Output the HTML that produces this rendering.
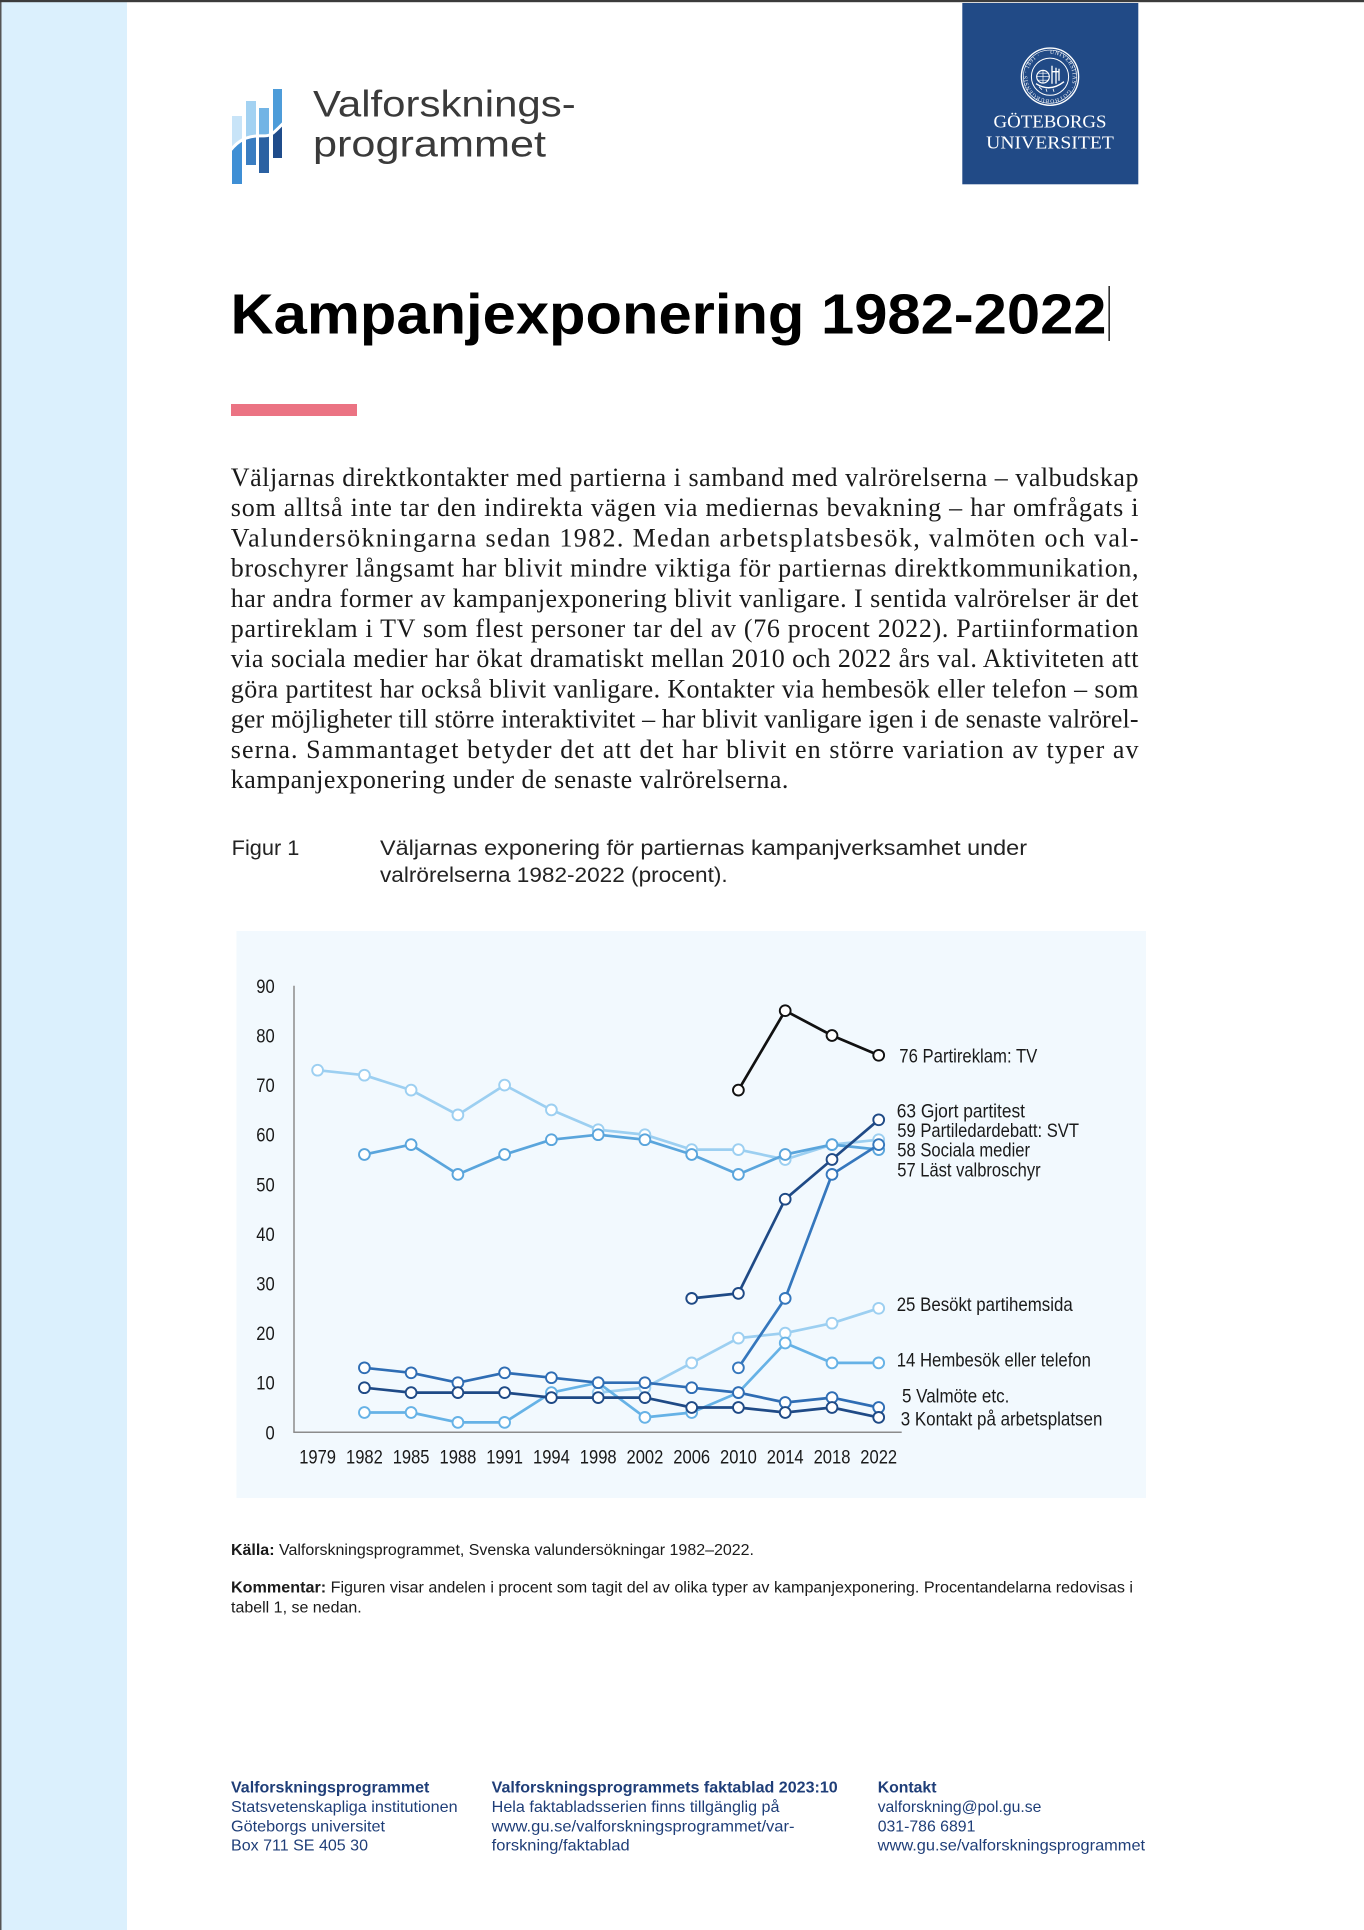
<!DOCTYPE html>
<html lang="sv">
<head>
<meta charset="utf-8">
<title>Kampanjexponering 1982-2022</title>
<style>
  html,body{margin:0;padding:0;background:#fff;}
  svg{display:block;}
</style>
</head>
<body>
<svg xmlns="http://www.w3.org/2000/svg" width="1364" height="1930" viewBox="0 0 1364 1930">
  <defs>
    <clipPath id="below">
      <path d="M226,156 C236,142 244,137 256,136 C264,135.5 268,137 273,133 C277,130 281,125 290,117 L290,200 L226,200 Z"/>
    </clipPath>
    <path id="sealp" d="M0,-22.8 A22.8,22.8 0 1,1 -0.01,-22.8"/>
    <marker id="mA" markerWidth="16" markerHeight="16" refX="8" refY="8" markerUnits="userSpaceOnUse"><circle cx="8" cy="8" r="5.4" fill="#fff" stroke="#9ccff1" stroke-width="1.9"/></marker>
    <marker id="mB" markerWidth="16" markerHeight="16" refX="8" refY="8" markerUnits="userSpaceOnUse"><circle cx="8" cy="8" r="5.4" fill="#fff" stroke="#5aa5dc" stroke-width="1.9"/></marker>
    <marker id="mC" markerWidth="16" markerHeight="16" refX="8" refY="8" markerUnits="userSpaceOnUse"><circle cx="8" cy="8" r="5.4" fill="#fff" stroke="#66b2e6" stroke-width="1.9"/></marker>
    <marker id="mD" markerWidth="16" markerHeight="16" refX="8" refY="8" markerUnits="userSpaceOnUse"><circle cx="8" cy="8" r="5.4" fill="#fff" stroke="#2f6db4" stroke-width="1.9"/></marker>
    <marker id="mE" markerWidth="16" markerHeight="16" refX="8" refY="8" markerUnits="userSpaceOnUse"><circle cx="8" cy="8" r="5.4" fill="#fff" stroke="#1f4a86" stroke-width="1.9"/></marker>
    <marker id="mF" markerWidth="16" markerHeight="16" refX="8" refY="8" markerUnits="userSpaceOnUse"><circle cx="8" cy="8" r="5.4" fill="#fff" stroke="#111" stroke-width="1.9"/></marker>
    <marker id="mG" markerWidth="16" markerHeight="16" refX="8" refY="8" markerUnits="userSpaceOnUse"><circle cx="8" cy="8" r="5.4" fill="#fff" stroke="#3577bd" stroke-width="1.9"/></marker>
  </defs>

  <!-- page frame -->
  <rect x="0" y="0" width="1364" height="1930" fill="#fff"/>
  <rect x="0" y="0" width="127" height="1930" fill="#dbf0fd"/>
  <rect x="0" y="0" width="1.5" height="1930" fill="#555"/>
  <rect x="0" y="0" width="1364" height="2.2" fill="#3c3c3c"/>

  <!-- Valforskningsprogrammet logo -->
  <g>
    <rect x="232" y="116" width="10" height="68" fill="#c8e4f8"/>
    <rect x="232" y="116" width="10" height="68" fill="#3f8fd5" clip-path="url(#below)"/>
    <rect x="246" y="101" width="10" height="64" fill="#a3d2f2"/>
    <rect x="246" y="101" width="10" height="64" fill="#3a7dc1" clip-path="url(#below)"/>
    <rect x="259" y="108" width="10" height="65" fill="#72b4e5"/>
    <rect x="259" y="108" width="10" height="65" fill="#2b61a2" clip-path="url(#below)"/>
    <rect x="273" y="89" width="9" height="69" fill="#4d9cd9"/>
    <rect x="273" y="89" width="9" height="69" fill="#1f4c8b" clip-path="url(#below)"/>
    <path d="M226,156 C236,142 244,137 256,136 C264,135.5 268,137 273,133 C277,130 281,125 290,117" stroke="#fff" stroke-width="3" fill="none"/>
  </g>
  <text x="313" y="116.7" font-family="'Liberation Sans', Arial, sans-serif" font-size="37" fill="#3a3a3a" textLength="262.7" lengthAdjust="spacingAndGlyphs">Valforsknings-</text>
  <text x="313" y="156.7" font-family="'Liberation Sans', Arial, sans-serif" font-size="37" fill="#3a3a3a" textLength="233" lengthAdjust="spacingAndGlyphs">programmet</text>

  <!-- Göteborgs universitet logo -->
  <rect x="962.3" y="3" width="176" height="181.3" fill="#214a86"/>
  <g transform="translate(1050,76.7)" fill="none" stroke="#fff">
    <circle r="28.6" stroke-width="1.4"/>
    <circle r="26.6" stroke-width="0.6"/>
    <circle r="18.6" stroke-width="1"/>
    <text font-family="'Liberation Serif', serif" font-size="5.6" fill="#fff" stroke="none" letter-spacing="0.6"><textPath href="#sealp">UNIVERSITAS · GOTHOBURGENSIS · 1891 ·</textPath></text>
    <circle cx="-7" cy="0" r="6.3" stroke-width="1.2"/>
    <path d="M-13.3,0 H-0.7 M-7,-6.3 V6.3 M-12,-3.5 H-2 M-12,3.5 H-2" stroke-width="0.7"/>
    <path d="M2,-11 V7 M6,-9 V7 M2,-5 H9 M9,-8 V4" stroke-width="1.3"/>
    <path d="M-14,7 Q0,16 14,5" stroke-width="1.4"/>
    <path d="M-11,10 L-8,13 M-4,12 L-3,15 M3,12 L4,15" stroke-width="0.8"/>
  </g>
  <text x="1050" y="127.3" text-anchor="middle" font-family="'Liberation Serif', serif" font-size="17.5" fill="#fff" textLength="113" lengthAdjust="spacingAndGlyphs">GÖTEBORGS</text>
  <text x="1050" y="148.3" text-anchor="middle" font-family="'Liberation Serif', serif" font-size="17.5" fill="#fff" textLength="127.7" lengthAdjust="spacingAndGlyphs">UNIVERSITET</text>

  <!-- Title -->
  <text x="230.5" y="333.3" font-family="'Liberation Sans', Arial, sans-serif" font-size="57" font-weight="bold" fill="#000" textLength="876" lengthAdjust="spacingAndGlyphs">Kampanjexponering 1982-2022</text>
  <rect x="1108.5" y="286" width="1.3" height="55" fill="#000"/>

  <!-- Pink bar -->
  <rect x="231" y="404" width="126" height="12" fill="#eb7383"/>

  <!-- Paragraph -->
  <g font-family="'Liberation Serif', 'Times New Roman', serif" font-size="26" fill="#1a1a1a">
    <text x="230.8" y="486" textLength="907.7" lengthAdjust="spacing">Väljarnas direktkontakter med partierna i samband med valrörelserna – valbudskap</text>
    <text x="230.8" y="516.2" textLength="907.7" lengthAdjust="spacing">som alltså inte tar den indirekta vägen via mediernas bevakning – har omfrågats i</text>
    <text x="230.8" y="546.4" textLength="907.7" lengthAdjust="spacing">Valundersökningarna sedan 1982. Medan arbetsplatsbesök, valmöten och val-</text>
    <text x="230.8" y="576.6" textLength="907.7" lengthAdjust="spacing">broschyrer långsamt har blivit mindre viktiga för partiernas direktkommunikation,</text>
    <text x="230.8" y="606.8" textLength="907.7" lengthAdjust="spacing">har andra former av kampanjexponering blivit vanligare. I sentida valrörelser är det</text>
    <text x="230.8" y="637" textLength="907.7" lengthAdjust="spacing">partireklam i TV som flest personer tar del av (76 procent 2022). Partiinformation</text>
    <text x="230.8" y="667.2" textLength="907.7" lengthAdjust="spacing">via sociala medier har ökat dramatiskt mellan 2010 och 2022 års val. Aktiviteten att</text>
    <text x="230.8" y="697.4" textLength="907.7" lengthAdjust="spacing">göra partitest har också blivit vanligare. Kontakter via hembesök eller telefon – som</text>
    <text x="230.8" y="727.6" textLength="907.7" lengthAdjust="spacing">ger möjligheter till större interaktivitet – har blivit vanligare igen i de senaste valrörel-</text>
    <text x="230.8" y="757.8" textLength="907.7" lengthAdjust="spacing">serna. Sammantaget betyder det att det har blivit en större variation av typer av</text>
    <text x="230.8" y="788" textLength="557.6" lengthAdjust="spacing">kampanjexponering under de senaste valrörelserna.</text>
  </g>

  <!-- Figure caption -->
  <g font-family="'Liberation Sans', Arial, sans-serif" font-size="21" fill="#222">
    <text x="231.7" y="855" textLength="67.7" lengthAdjust="spacingAndGlyphs">Figur 1</text>
    <text x="380" y="855" textLength="647" lengthAdjust="spacingAndGlyphs">Väljarnas exponering för partiernas kampanjverksamhet under</text>
    <text x="380" y="882" textLength="347.7" lengthAdjust="spacingAndGlyphs">valrörelserna 1982-2022 (procent).</text>
  </g>

  <!-- Chart panel -->
  <rect x="236.5" y="931" width="909.5" height="567" fill="#f2f9fe"/>

  <!-- Axes -->
  <line x1="294" y1="985.8" x2="294" y2="1432.3" stroke="#8c8c8c" stroke-width="1.5"/>
  <line x1="293.3" y1="1432.3" x2="901.7" y2="1432.3" stroke="#8c8c8c" stroke-width="1.5"/>

  <!-- Y labels -->
  <g font-family="'Liberation Sans', Arial, sans-serif" font-size="19" fill="#1a1a1a" text-anchor="end">
    <text x="274.7" y="1439.3" textLength="9.2" lengthAdjust="spacingAndGlyphs">0</text>
    <text x="274.7" y="1389.7" textLength="18.4" lengthAdjust="spacingAndGlyphs">10</text>
    <text x="274.7" y="1340.1" textLength="18.4" lengthAdjust="spacingAndGlyphs">20</text>
    <text x="274.7" y="1290.5" textLength="18.4" lengthAdjust="spacingAndGlyphs">30</text>
    <text x="274.7" y="1240.9" textLength="18.4" lengthAdjust="spacingAndGlyphs">40</text>
    <text x="274.7" y="1191.3" textLength="18.4" lengthAdjust="spacingAndGlyphs">50</text>
    <text x="274.7" y="1141.7" textLength="18.4" lengthAdjust="spacingAndGlyphs">60</text>
    <text x="274.7" y="1092.1" textLength="18.4" lengthAdjust="spacingAndGlyphs">70</text>
    <text x="274.7" y="1042.5" textLength="18.4" lengthAdjust="spacingAndGlyphs">80</text>
    <text x="274.7" y="992.9" textLength="18.4" lengthAdjust="spacingAndGlyphs">90</text>
  </g>

  <!-- X labels -->
  <g font-family="'Liberation Sans', Arial, sans-serif" font-size="19.5" fill="#1a1a1a" text-anchor="middle">
    <text x="317.6" y="1463.3" textLength="36.8" lengthAdjust="spacingAndGlyphs">1979</text>
    <text x="364.4" y="1463.3" textLength="36.8" lengthAdjust="spacingAndGlyphs">1982</text>
    <text x="411.1" y="1463.3" textLength="36.8" lengthAdjust="spacingAndGlyphs">1985</text>
    <text x="457.9" y="1463.3" textLength="36.8" lengthAdjust="spacingAndGlyphs">1988</text>
    <text x="504.6" y="1463.3" textLength="36.8" lengthAdjust="spacingAndGlyphs">1991</text>
    <text x="551.4" y="1463.3" textLength="36.8" lengthAdjust="spacingAndGlyphs">1994</text>
    <text x="598.2" y="1463.3" textLength="36.8" lengthAdjust="spacingAndGlyphs">1998</text>
    <text x="644.9" y="1463.3" textLength="36.8" lengthAdjust="spacingAndGlyphs">2002</text>
    <text x="691.7" y="1463.3" textLength="36.8" lengthAdjust="spacingAndGlyphs">2006</text>
    <text x="738.4" y="1463.3" textLength="36.8" lengthAdjust="spacingAndGlyphs">2010</text>
    <text x="785.2" y="1463.3" textLength="36.8" lengthAdjust="spacingAndGlyphs">2014</text>
    <text x="832.0" y="1463.3" textLength="36.8" lengthAdjust="spacingAndGlyphs">2018</text>
    <text x="878.7" y="1463.3" textLength="36.8" lengthAdjust="spacingAndGlyphs">2022</text>
  </g>

  <!-- Series -->
  <g fill="none" stroke-width="2.7" stroke-linejoin="round">
    <!-- Partiledardebatt: SVT -->
    <polyline stroke="#9ccff1" marker-start="url(#mA)" marker-mid="url(#mA)" marker-end="url(#mA)"
      points="317.6,1070.2 364.4,1075.2 411.1,1090.1 457.9,1114.9 504.6,1085.1 551.4,1109.9 598.2,1129.7 644.9,1134.7 691.7,1149.6 738.4,1149.6 785.2,1159.5 832.0,1144.6 878.7,1139.7"/>
    <!-- Besökt partihemsida -->
    <polyline stroke="#9ccff1" marker-start="url(#mA)" marker-mid="url(#mA)" marker-end="url(#mA)"
      points="598.2,1392.6 644.9,1387.7 691.7,1362.9 738.4,1338.1 785.2,1333.1 832.0,1323.2 878.7,1308.3"/>
    <!-- Läst valbroschyr -->
    <polyline stroke="#5aa5dc" marker-start="url(#mB)" marker-mid="url(#mB)" marker-end="url(#mB)"
      points="364.4,1154.5 411.1,1144.6 457.9,1174.4 504.6,1154.5 551.4,1139.7 598.2,1134.7 644.9,1139.7 691.7,1154.5 738.4,1174.4 785.2,1154.5 832.0,1144.6 878.7,1149.6"/>
    <!-- Hembesök eller telefon -->
    <polyline stroke="#66b2e6" marker-start="url(#mC)" marker-mid="url(#mC)" marker-end="url(#mC)"
      points="364.4,1412.5 411.1,1412.5 457.9,1422.4 504.6,1422.4 551.4,1392.6 598.2,1382.7 644.9,1417.4 691.7,1412.5 738.4,1392.6 785.2,1343.0 832.0,1362.9 878.7,1362.9"/>
    <!-- Sociala medier -->
    <polyline stroke="#3577bd" marker-start="url(#mG)" marker-mid="url(#mG)" marker-end="url(#mG)"
      points="738.4,1367.8 785.2,1298.4 832.0,1174.4 878.7,1144.6"/>
    <!-- Valmöte etc. -->
    <polyline stroke="#2f6db4" marker-start="url(#mD)" marker-mid="url(#mD)" marker-end="url(#mD)"
      points="364.4,1367.8 411.1,1372.8 457.9,1382.7 504.6,1372.8 551.4,1377.7 598.2,1382.7 644.9,1382.7 691.7,1387.7 738.4,1392.6 785.2,1402.5 832.0,1397.6 878.7,1407.5"/>
    <!-- Kontakt på arbetsplatsen -->
    <polyline stroke="#1f4a86" marker-start="url(#mE)" marker-mid="url(#mE)" marker-end="url(#mE)"
      points="364.4,1387.7 411.1,1392.6 457.9,1392.6 504.6,1392.6 551.4,1397.6 598.2,1397.6 644.9,1397.6 691.7,1407.5 738.4,1407.5 785.2,1412.5 832.0,1407.5 878.7,1417.4"/>
    <!-- Gjort partitest -->
    <polyline stroke="#1f4a86" marker-start="url(#mE)" marker-mid="url(#mE)" marker-end="url(#mE)"
      points="691.7,1298.4 738.4,1293.4 785.2,1199.2 832.0,1159.5 878.7,1119.8"/>
    <!-- Partireklam: TV -->
    <polyline stroke="#111" marker-start="url(#mF)" marker-mid="url(#mF)" marker-end="url(#mF)"
      points="738.4,1090.1 785.2,1010.7 832.0,1035.5 878.7,1055.3"/>
  </g>

  <!-- Legend labels -->
  <g font-family="'Liberation Sans', Arial, sans-serif" font-size="19.5" fill="#1a1a1a">
    <text x="899.3" y="1062.7" textLength="138" lengthAdjust="spacingAndGlyphs">76 Partireklam: TV</text>
    <text x="896.7" y="1117.3" textLength="128.3" lengthAdjust="spacingAndGlyphs">63 Gjort partitest</text>
    <text x="897.3" y="1136.9" textLength="181.7" lengthAdjust="spacingAndGlyphs">59 Partiledardebatt: SVT</text>
    <text x="897.3" y="1156.7" textLength="132.7" lengthAdjust="spacingAndGlyphs">58 Sociala medier</text>
    <text x="897.3" y="1176.7" textLength="143.3" lengthAdjust="spacingAndGlyphs">57 Läst valbroschyr</text>
    <text x="896.7" y="1311" textLength="176" lengthAdjust="spacingAndGlyphs">25 Besökt partihemsida</text>
    <text x="896.7" y="1366.7" textLength="194.3" lengthAdjust="spacingAndGlyphs">14 Hembesök eller telefon</text>
    <text x="902" y="1402.7" textLength="107.3" lengthAdjust="spacingAndGlyphs">5 Valmöte etc.</text>
    <text x="900.7" y="1425.3" textLength="201.7" lengthAdjust="spacingAndGlyphs">3 Kontakt på arbetsplatsen</text>
  </g>

  <!-- Source / comment -->
  <g font-family="'Liberation Sans', Arial, sans-serif" font-size="15.5" fill="#1a1a1a">
    <text x="231" y="1555" textLength="523" lengthAdjust="spacingAndGlyphs"><tspan font-weight="bold">Källa:</tspan> Valforskningsprogrammet, Svenska valundersökningar 1982–2022.</text>
    <text x="231" y="1592.7" textLength="902" lengthAdjust="spacingAndGlyphs"><tspan font-weight="bold">Kommentar:</tspan> Figuren visar andelen i procent som tagit del av olika typer av kampanjexponering. Procentandelarna redovisas i</text>
    <text x="231" y="1612.5" textLength="130.7" lengthAdjust="spacingAndGlyphs">tabell 1, se nedan.</text>
  </g>

  <!-- Footer -->
  <g font-family="'Liberation Sans', Arial, sans-serif" font-size="16" fill="#1f3e78">
    <text x="231" y="1792.7" font-weight="bold" textLength="198.3" lengthAdjust="spacingAndGlyphs">Valforskningsprogrammet</text>
    <text x="231" y="1812" textLength="226.6" lengthAdjust="spacingAndGlyphs">Statsvetenskapliga institutionen</text>
    <text x="231" y="1831.3" textLength="154" lengthAdjust="spacingAndGlyphs">Göteborgs universitet</text>
    <text x="231" y="1850.7" textLength="137" lengthAdjust="spacingAndGlyphs">Box 711 SE 405 30</text>

    <text x="491.7" y="1792.7" font-weight="bold" textLength="346" lengthAdjust="spacingAndGlyphs">Valforskningsprogrammets faktablad 2023:10</text>
    <text x="491.7" y="1812" textLength="287.8" lengthAdjust="spacingAndGlyphs">Hela faktabladsserien finns tillgänglig på</text>
    <text x="491.7" y="1831.3" textLength="302.8" lengthAdjust="spacingAndGlyphs">www.gu.se/valforskningsprogrammet/var-</text>
    <text x="491.7" y="1850.7" textLength="138" lengthAdjust="spacingAndGlyphs">forskning/faktablad</text>

    <text x="877.7" y="1792.7" font-weight="bold" textLength="58.8" lengthAdjust="spacingAndGlyphs">Kontakt</text>
    <text x="877.7" y="1812" textLength="163.7" lengthAdjust="spacingAndGlyphs">valforskning@pol.gu.se</text>
    <text x="877.7" y="1831.3" textLength="97.7" lengthAdjust="spacingAndGlyphs">031-786 6891</text>
    <text x="877.7" y="1850.7" textLength="267.4" lengthAdjust="spacingAndGlyphs">www.gu.se/valforskningsprogrammet</text>
  </g>
</svg>
</body>
</html>
